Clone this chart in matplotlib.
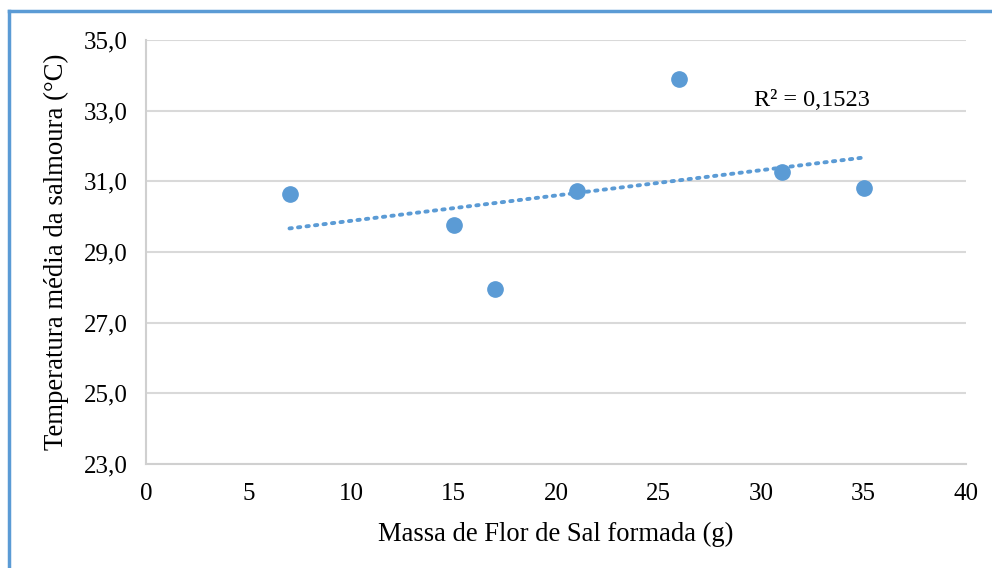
import matplotlib
matplotlib.use("Agg")
import matplotlib.pyplot as plt
import numpy as np
from matplotlib.lines import Line2D
from matplotlib.ticker import FuncFormatter

plt.rcParams['font.family'] = ['Liberation Serif', 'DejaVu Serif']

massa = [7, 15, 17, 21, 26, 31, 35]
temperatura = [30.64, 29.76, 27.95, 30.73, 33.90, 31.26, 30.81]
r2_label = "R² = 0,1523"
x_ticks = [0, 5, 10, 15, 20, 25, 30, 35, 40]
y_ticks = [23.0, 25.0, 27.0, 29.0, 31.0, 33.0, 35.0]

blue = '#5b9bd5'

fig = plt.figure(figsize=(9.92, 5.68), dpi=100)
ax = fig.add_axes([146/992, (568-464)/568, 820/992, 424/568])

ax.set_xlim(0, 40)
ax.set_ylim(23, 35)
ax.set_xticks(x_ticks)
ax.set_yticks(y_ticks)
ax.yaxis.set_major_formatter(FuncFormatter(lambda v, p: f"{v:.1f}".replace('.', ',')))
ax.grid(axis='y', color='#d9d9d9', lw=1.5)
ax.set_axisbelow(True)
for s in ['top', 'right']:
    ax.spines[s].set_visible(False)
for s in ['left', 'bottom']:
    ax.spines[s].set_color('#d0d0d0')
    ax.spines[s].set_linewidth(1.5)
ax.tick_params(axis='y', length=0, labelsize=18, pad=13)
ax.tick_params(axis='x', length=0, labelsize=18, pad=14)

# trendline
coef = np.polyfit(massa, temperatura, 1)
xt = np.array([min(massa), max(massa)])
ax.plot(xt, np.polyval(coef, xt), linestyle=(0, (0.6, 1.6)), color=blue, lw=2.8,
        dash_capstyle='round', zorder=2)

ax.plot(massa, temperatura, 'o', color=blue, markersize=11, zorder=3)

ax.text(32.5, 33.3, r2_label, fontsize=17.5, ha='center', va='center')

ax.set_xlabel("Massa de Flor de Sal formada (g)", fontsize=19.2, labelpad=12)
ax.set_ylabel("Temperatura média da salmoura (°C)", fontsize=19.3, labelpad=11)

# chart border (top and left)
fig.add_artist(Line2D([9/992, 9/992], [0, 1 - 11/568], transform=fig.transFigure, color=blue, lw=2.5))
fig.add_artist(Line2D([9/992, 1], [1 - 11/568, 1 - 11/568], transform=fig.transFigure, color=blue, lw=2.5))

fig.savefig("out.png", dpi=100)
